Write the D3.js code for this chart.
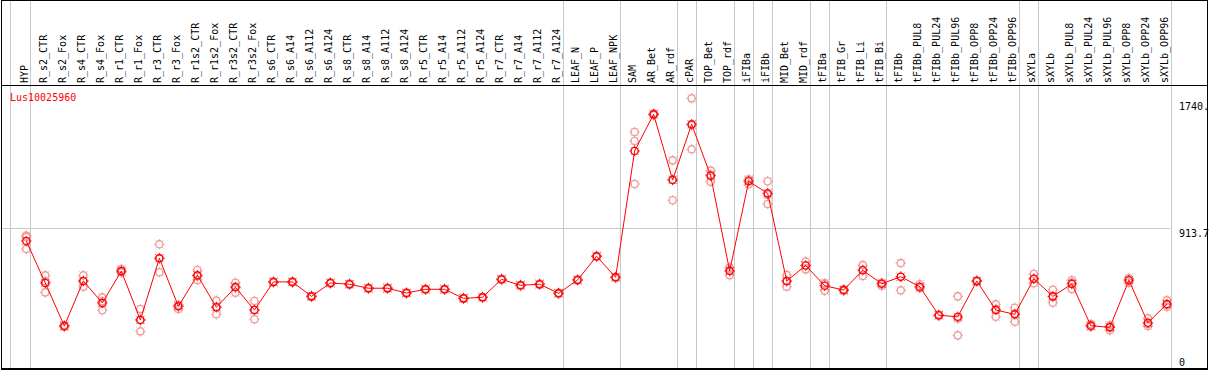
<!DOCTYPE html>
<html>
<head>
<meta charset="utf-8">
<script src="https://cdn.jsdelivr.net/npm/d3@7"></script>
<style>
  body { margin: 0; background: #fff; }
  svg text { font-family: "DejaVu Sans Mono", monospace; font-size: 10px; }
</style>
</head>
<body>
<div id="chart"></div>
<script>
const W = 1209, H = 370;

const geneName = "Lus10025960";

const samples = ["HYP", "R_s2_CTR", "R_s2_Fox", "R_s4_CTR", "R_s4_Fox", "R_r1_CTR", "R_r1_Fox",
  "R_r3_CTR", "R_r3_Fox", "R_r1s2_CTR", "R_r1s2_Fox", "R_r3s2_CTR", "R_r3s2_Fox",
  "R_s6_CTR", "R_s6_A14", "R_s6_A112", "R_s6_A124", "R_s8_CTR", "R_s8_A14", "R_s8_A112", "R_s8_A124",
  "R_r5_CTR", "R_r5_A14", "R_r5_A112", "R_r5_A124", "R_r7_CTR", "R_r7_A14", "R_r7_A112", "R_r7_A124",
  "LEAF_N", "LEAF_P", "LEAF_NPK", "SAM", "AR_Bet", "AR_rdf", "cPAR", "TOP_Bet", "TOP_rdf",
  "iFIBa", "iFIBb", "MID_Bet", "MID_rdf", "tFIBa", "tFIB_Gr", "tFIB_Li", "tFIB_Bi", "tFIBb",
  "tFIBb_PUL8", "tFIBb_PUL24", "tFIBb_PUL96", "tFIBb_OPP8", "tFIBb_OPP24", "tFIBb_OPP96",
  "sXYLa", "sXYLb", "sXYLb_PUL8", "sXYLb_PUL24", "sXYLb_PUL96", "sXYLb_OPP8", "sXYLb_OPP24", "sXYLb_OPP96"];

// mean expression per sample
const means = [831, 557, 277, 570, 427, 635, 316, 718, 405, 607, 399, 529, 381,
  564, 564, 470, 557, 549, 523, 523, 492, 516, 516, 457, 464, 581, 542, 549, 490,
  577, 731, 594, 1417, 1656, 1228, 1591, 1256, 635, 1220, 1141, 570, 671,
  539, 511, 640, 552, 598, 533, 347, 337, 570, 381, 353,
  585, 470, 551, 279, 268, 575, 298, 420];

// replicate values (3 per sample)
const reps = [
  [866, 857, 779], [607, 496, 568], [270, 280, 282], [607, 533, 570], [464, 379, 438],
  [648, 631, 626], [388, 242, 318], [809, 627, 718], [414, 388, 413], [642, 577, 602],
  [442, 353, 402], [559, 494, 534], [440, 321, 382], [560, 566, 566], [560, 564, 568],
  [466, 470, 474], [553, 557, 561], [545, 549, 553], [519, 523, 527], [519, 523, 527],
  [488, 492, 496], [512, 516, 520], [512, 516, 520], [453, 457, 461], [460, 464, 468],
  [577, 581, 585], [538, 542, 546], [545, 549, 553], [486, 490, 494], [573, 577, 581],
  [727, 731, 735], [590, 594, 598], [1541, 1482, 1202], [1650, 1656, 1662], [1356, 1096, 1232],
  [1760, 1428, 1585], [1289, 1217, 1262], [657, 607, 641], [1233, 1200, 1227], [1220, 1072, 1131],
  [609, 533, 568], [696, 646, 671], [555, 507, 555], [505, 511, 517], [674, 603, 643],
  [559, 539, 558], [687, 509, 598], [549, 523, 527], [342, 347, 352], [470, 216, 325],
  [565, 570, 575], [418, 337, 388], [396, 305, 358], [616, 555, 584], [513, 429, 468],
  [575, 518, 560], [290, 272, 275], [281, 249, 274], [588, 559, 578], [327, 277, 290],
  [444, 414, 402]];

// sample after which a grey separator is drawn
const groupEnds = ["HYP", "R_r7_A124", "LEAF_NPK", "AR_rdf", "cPAR", "TOP_rdf", "iFIBa", "iFIBb",
  "MID_rdf", "tFIBa", "tFIB_Bi", "tFIBb_OPP96", "sXYLa", "sXYLb_OPP96"];

const yMax = 1827.4;
const yLabels = ["1740.", "913.7", "0"];
const yLabelVals = [1740, 913.7, 0];

const headerY = 85, bottomY = 369, plotRight = 1170;

const svg = d3.select("#chart").append("svg")
  .attr("width", W)
  .attr("height", H);

const x = d3.scalePoint()
  .domain(samples)
  .range([26.3, 1166.9]);

const y = d3.scaleLinear()
  .domain([0, yMax])
  .range([368.5, 88]);

// grey grid lines
const grid = svg.append("g").attr("stroke", "#c8c8c8").attr("stroke-width", 1)
  .attr("shape-rendering", "crispEdges");

grid.append("line")
  .attr("x1", Math.round(x(samples[0]) - 16) + 0.5).attr("x2", Math.round(x(samples[0]) - 16) + 0.5)
  .attr("y1", 0).attr("y2", bottomY);

grid.selectAll(".sep")
  .data(groupEnds)
  .enter().append("line")
  .attr("class", "sep")
  .attr("x1", d => Math.round(x(d) + 4) + 0.5)
  .attr("x2", d => Math.round(x(d) + 4) + 0.5)
  .attr("y1", 0).attr("y2", bottomY);

grid.append("line")
  .attr("x1", 1).attr("x2", plotRight)
  .attr("y1", Math.round(y(913.7)) + 0.5).attr("y2", Math.round(y(913.7)) + 0.5);

// frame
const frame = svg.append("g").attr("stroke", "#000").attr("fill", "none")
  .attr("shape-rendering", "crispEdges");
frame.append("rect").attr("x", 1.5).attr("y", 0.5).attr("width", 1206).attr("height", bottomY - 0.5)
  .attr("stroke-width", 1.5);
frame.append("line").attr("x1", 1).attr("x2", 1208).attr("y1", headerY + 0.5).attr("y2", headerY + 0.5);

// column labels
svg.append("g")
  .selectAll("text")
  .data(samples)
  .enter().append("text")
  .attr("transform", d => `translate(${x(d) + 1.5}, 83) rotate(-90)`)
  .attr("fill", "#000")
  .text(d => d);

// gene name
svg.append("text")
  .attr("x", 10)
  .attr("y", 101)
  .attr("fill", "#ff0000")
  .text(geneName);

// right side value labels
svg.append("g")
  .selectAll("text")
  .data(yLabels)
  .enter().append("text")
  .attr("x", 1179)
  .attr("y", (d, i) => Math.min(y(yLabelVals[i]) + 9, 366))
  .attr("fill", "#000")
  .text(d => d);

// marker: open circle with small ticks
function marker(g, color) {
  g.append("circle").attr("r", 3.6).attr("fill", "none").attr("stroke", color).attr("stroke-width", 1.4);
  g.append("path")
    .attr("d", "M0,-5.2V-4M0,4V5.2M-5.2,0H-4M4,0H5.2M-3.9,-3.9L-3.3,-3.3M3.9,3.9L3.3,3.3M-3.9,3.9L-3.3,3.3M3.9,-3.9L3.3,-3.3")
    .attr("stroke", color).attr("stroke-width", 1).attr("fill", "none");
}

// replicates
const repPts = [];
samples.forEach((s, i) => reps[i].forEach(v => repPts.push({ s: s, v: v })));

svg.append("g")
  .selectAll("g")
  .data(repPts)
  .enter().append("g")
  .attr("transform", d => `translate(${x(d.s)}, ${y(d.v)})`)
  .each(function() { marker(d3.select(this), "#ee9a9a"); });

// mean line
const line = d3.line()
  .x((d, i) => x(samples[i]))
  .y(d => y(d));

svg.append("path")
  .datum(means)
  .attr("d", line)
  .attr("fill", "none")
  .attr("stroke", "#ff0000")
  .attr("stroke-width", 1);

svg.append("g")
  .selectAll("g")
  .data(means)
  .enter().append("g")
  .attr("transform", (d, i) => `translate(${x(samples[i])}, ${y(d)})`)
  .each(function() { marker(d3.select(this), "#ff0000"); });
</script>
</body>
</html>
